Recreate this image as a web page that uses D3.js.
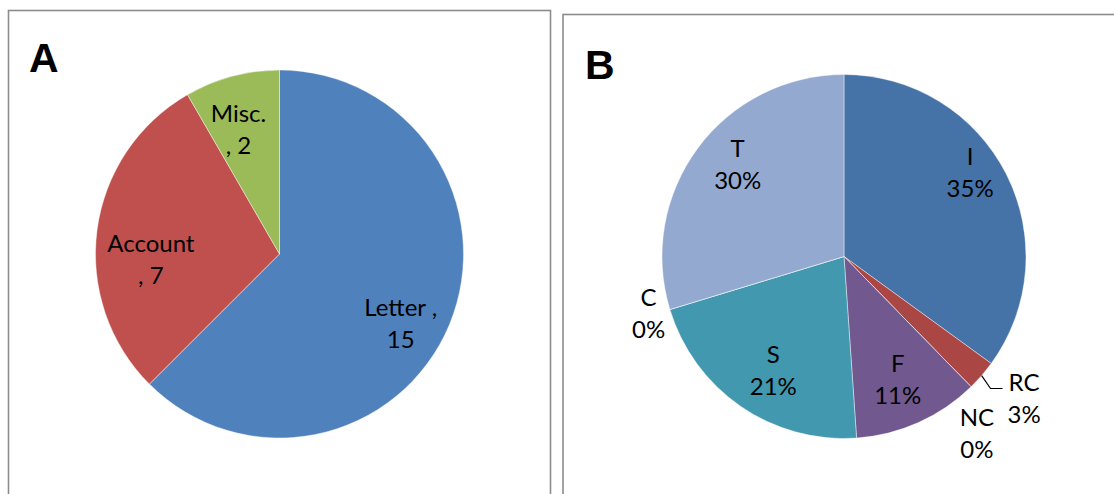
<!DOCTYPE html>
<html>
<head>
<meta charset="utf-8">
<script src="https://cdn.jsdelivr.net/npm/d3@7"></script>
<style>
  html, body { margin: 0; padding: 0; background: #fff; }
  svg { display: block; }
</style>
</head>
<body>
<svg id="chart" width="1114" height="494"></svg>
<script>
// Panel A: document counts by type
const docTypes = ["Letter", "Account", "Misc."];
const docCounts = [15, 7, 2];
const docColors = ["#4F81BD", "#C0504D", "#9BBB59"];

// Panel B: share of each category (percent)
const catNames = ["I", "RC", "NC", "F", "S", "C", "T"];
const catShares = [35, 2.7, 0, 11.2, 21.4, 0, 29.7];
const catColors = ["#4572A7", "#AA4643", "#89A54E", "#71588F", "#4198AF", "#DB843D", "#93A9CF"];

const svg = d3.select("#chart");
const FONT = "Lato, 'Open Sans', sans-serif";
const FONT_SIZE = 24;
const LINE_H = 32;

// Panel frames
svg.append("rect").attr("x", 8.5).attr("y", 10.5).attr("width", 542).attr("height", 500)
  .attr("fill", "none").attr("stroke", "#8c8c8c").attr("stroke-width", 1.6);
svg.append("rect").attr("x", 563).attr("y", 14.5).attr("width", 560).attr("height", 500)
  .attr("fill", "none").attr("stroke", "#8c8c8c").attr("stroke-width", 1.6);

// Panel letters
svg.append("text").attr("x", 29).attr("y", 72).text("A")
  .attr("font-family", "'Liberation Sans', Arial, sans-serif").attr("font-weight", "bold").attr("font-size", 41);
svg.append("text").attr("x", 585).attr("y", 79).text("B")
  .attr("font-family", "'Liberation Sans', Arial, sans-serif").attr("font-weight", "bold").attr("font-size", 41);

const deg = Math.PI / 180;

// Two-line label centred at (x, y)
function twoLine(g, x, y, l1, l2) {
  const t = g.append("text").attr("text-anchor", "middle")
    .attr("font-family", FONT).attr("font-size", FONT_SIZE).attr("fill", "#000");
  t.append("tspan").attr("x", x).attr("y", y - 8).text(l1);
  t.append("tspan").attr("x", x).attr("y", y - 8 + LINE_H).text(l2);
  return t;
}

function drawPie(opts) {
  const { cx, cy, r, names, values, colors, labelText, place, leaders } = opts;
  const g = svg.append("g").attr("transform", `translate(${cx},${cy})`);
  const pie = d3.pie().sort(null).value(d => d)(values);
  const arc = d3.arc().innerRadius(0).outerRadius(r);

  g.selectAll("path.slice").data(pie).join("path")
    .attr("class", "slice")
    .attr("d", arc)
    .attr("fill", (d, i) => colors[i])
    .attr("stroke", "#ffffff").attr("stroke-width", 0.6).attr("stroke-opacity", 0.7);

  pie.forEach((d, i) => {
    const name = names[i];
    const p = place[name];
    const mid = (d.startAngle + d.endAngle) / 2 + p.shift * deg;
    const lx = Math.sin(mid) * r * p.rf;
    const ly = -Math.cos(mid) * r * p.rf;
    const [l1, l2] = labelText(name, d.value, i);
    const t = twoLine(g, lx, ly, l1, l2);

    if (leaders && leaders.includes(name)) {
      const m0 = (d.startAngle + d.endAngle) / 2;
      const ex = Math.sin(m0) * r, ey = -Math.cos(m0) * r;
      // end the leader just left of the label text
      const w = t.node().getBBox().width;
      const endX = lx - w / 2 - 5, endY = ly - 10;
      const elbowX = endX - 12;
      g.append("polyline")
        .attr("points", `${ex},${ey} ${elbowX},${endY} ${endX},${endY}`)
        .attr("fill", "none").attr("stroke", "#000").attr("stroke-width", 1.2);
    }
  });
}

// Label placement along each slice's bisector (radius fraction, angular shift in degrees)
const placeA = {
  "Letter": { rf: 0.76, shift: 7.4 },
  "Account": { rf: 0.70, shift: -10.2 },
  "Misc.": { rf: 0.71, shift: -3.3 }
};
const placeB = {
  "I": { rf: 0.83, shift: -6.4 },
  "RC": { rf: 1.26, shift: -2.6 },
  "NC": { rf: 1.22, shift: 7.5 },
  "F": { rf: 0.74, shift: 0.6 },
  "S": { rf: 0.74, shift: -2.9 },
  "C": { rf: 1.12, shift: 0.4 },
  "T": { rf: 0.77, shift: 4.1 }
};

drawPie({
  cx: 279.5, cy: 254, r: 184,
  names: docTypes, values: docCounts, colors: docColors,
  labelText: (name, v) => name === "Letter" ? [name + " ,", String(v)] : [name, ", " + v],
  place: placeA
});

const totalB = d3.sum(catShares);
drawPie({
  cx: 844, cy: 256.5, r: 182,
  names: catNames, values: catShares, colors: catColors,
  labelText: (name, v) => [name, Math.round(v / totalB * 100) + "%"],
  place: placeB,
  leaders: ["RC"]
});
</script>
</body>
</html>
